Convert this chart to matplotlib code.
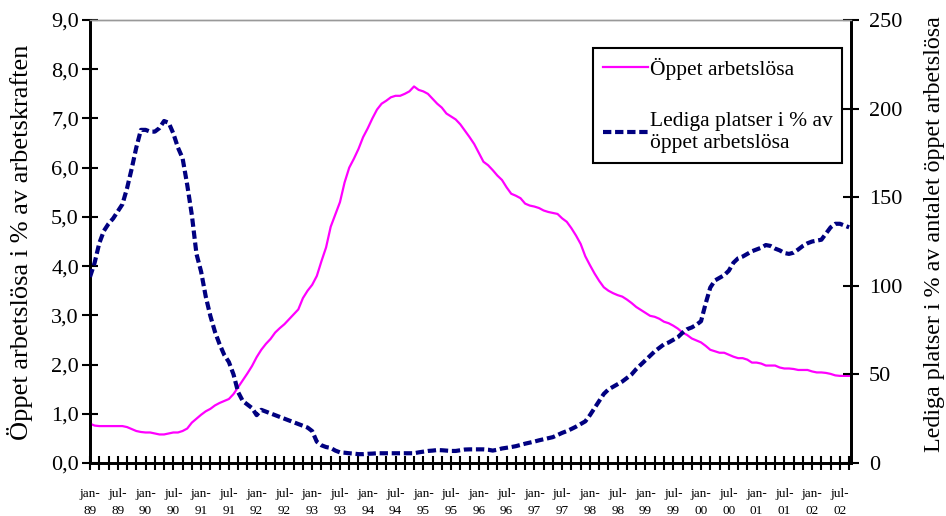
import matplotlib
matplotlib.use("Agg")
import matplotlib.pyplot as plt
from matplotlib.ticker import FixedLocator, FuncFormatter

# Monthly data jan-89 .. sep-02
unemployed = [
    0.80, 0.76, 0.75, 0.75, 0.75, 0.75, 0.75, 0.75, 0.73, 0.69, 0.65, 0.63,
    0.62, 0.62, 0.60, 0.58, 0.58, 0.60, 0.62, 0.62, 0.65, 0.70, 0.82, 0.90,
    0.98, 1.05, 1.10, 1.17, 1.22, 1.26, 1.30, 1.40, 1.54, 1.68, 1.82, 1.97,
    2.15, 2.30, 2.42, 2.52, 2.65, 2.74, 2.82, 2.92, 3.02, 3.12, 3.35, 3.50,
    3.62, 3.80, 4.10, 4.38, 4.80, 5.05, 5.30, 5.70, 6.00, 6.18, 6.38, 6.62,
    6.80, 7.00, 7.18, 7.30, 7.36, 7.43, 7.46, 7.46, 7.50, 7.55, 7.65, 7.58,
    7.55, 7.50, 7.40, 7.30, 7.22, 7.10, 7.04, 6.98, 6.88, 6.75, 6.62, 6.48,
    6.30, 6.12, 6.05, 5.95, 5.84, 5.75, 5.60, 5.47, 5.43, 5.38, 5.27, 5.23,
    5.21, 5.18, 5.13, 5.10, 5.08, 5.06, 4.97, 4.90, 4.77, 4.62, 4.45, 4.20,
    4.02, 3.85, 3.70, 3.57, 3.50, 3.45, 3.41, 3.38, 3.32, 3.25, 3.17, 3.11,
    3.05, 2.99, 2.97, 2.93, 2.87, 2.84, 2.79, 2.73, 2.65, 2.60, 2.53, 2.49,
    2.45, 2.38, 2.30, 2.27, 2.24, 2.24, 2.20, 2.16, 2.13, 2.13, 2.10, 2.04,
    2.04, 2.02, 1.98, 1.98, 1.98, 1.94, 1.92, 1.92, 1.91, 1.89, 1.89, 1.89,
    1.86, 1.84, 1.84, 1.83, 1.81, 1.78, 1.77, 1.77, 1.77,
]

vacancies = [
    105, 113, 124, 131, 135, 138, 142, 146, 155, 166, 178, 188,
    188, 187, 187, 189, 193, 192, 186, 178, 172, 157, 140, 118,
    108, 94, 83, 74, 67, 61, 57, 50, 40, 35, 33, 31,
    27, 30, 29, 28, 27, 26, 25, 24, 23, 22, 21, 20,
    18, 12, 10, 9, 8.5, 7, 6, 5.8, 5.5, 5.3, 5.0, 5.0,
    5.2, 5.3, 5.5, 5.5, 5.5, 5.5, 5.5, 5.5, 5.5, 5.5, 5.5, 6.0,
    6.4, 6.8, 7.0, 7.3, 7.2, 7.0, 6.8, 6.8, 7.2, 7.6, 7.7, 7.7,
    7.7, 7.7, 7.5, 7.0, 7.5, 8.2, 8.6, 9.0, 9.5, 10.2, 10.9, 11.5,
    12.1, 12.8, 13.4, 14.0, 14.6, 15.8, 17.0, 18.0, 19.2, 20.5, 22.0, 23.5,
    27, 31, 35, 39, 41.5, 43, 44.5, 46, 48, 50, 53, 55.5,
    58, 60.5, 63, 65, 67, 68, 69.5, 71, 73.5, 75.5, 76.5, 78,
    80, 90, 99, 103, 104.5, 106, 108.5, 113, 115.5, 116.5, 118, 119.5,
    120.5, 121.5, 123, 122.5, 121, 120, 118.5, 118, 118.7, 120.5, 122.5, 124,
    125, 125.5, 126, 129.5, 133, 135, 135, 134, 133,
]

tick_labels = [
    "jan-\n89", "jul-\n89", "jan-\n90", "jul-\n90", "jan-\n91", "jul-\n91",
    "jan-\n92", "jul-\n92", "jan-\n93", "jul-\n93", "jan-\n94", "jul-\n94",
    "jan-\n95", "jul-\n95", "jan-\n96", "jul-\n96", "jan-\n97", "jul-\n97",
    "jan-\n98", "jul-\n98", "jan-\n99", "jul-\n99", "jan-\n00", "jul-\n00",
    "jan-\n01", "jul-\n01", "jan-\n02", "jul-\n02",
]

label_unemp = "Öppet arbetslösa"
label_vac = "Lediga platser i % av\nöppet arbetslösa"
ylabel_left = "Öppet arbetslösa i % av arbetskraften"
ylabel_right = "Lediga platser i % av antalet öppet arbetslösa"

plt.rcParams["font.family"] = ["Liberation Serif", "DejaVu Serif"]

W, H = 946, 516
fig = plt.figure(figsize=(W / 100, H / 100), dpi=100)
ax = fig.add_axes([90 / W, 1 - 463 / H, (851 - 90) / W, (463 - 20) / H])
ax2 = ax.twinx()

months = list(range(len(unemployed)))
l1, = ax.plot(months, unemployed, color="#FF00FF", lw=1.6, zorder=3)
l2, = ax2.plot(months, vacancies, color="#000080", lw=3.0,
               linestyle=(0, (2.0, 0.9)), zorder=3)

ax.set_xlim(0, 164.4)
ax.set_ylim(0, 9)
ax2.set_ylim(0, 250)

ax.set_yticks([i for i in range(10)])
ax.yaxis.set_major_formatter(FuncFormatter(lambda v, p: f"{v:.1f}".replace(".", ",")))
ax2.set_yticks([0, 50, 100, 150, 200, 250])

ax.xaxis.set_major_locator(FixedLocator([6 * i for i in range(len(tick_labels))]))
ax.set_xticklabels(tick_labels)
ax.xaxis.set_minor_locator(FixedLocator([2 * i for i in range(83)]))

for a in (ax, ax2):
    for s in a.spines.values():
        s.set_linewidth(2)
    a.spines["top"].set_color("#999999")
    a.spines["top"].set_linewidth(1)

ax.tick_params(axis="y", direction="inout", length=12, width=1.5, labelsize=16, pad=2)
ax2.tick_params(axis="y", direction="inout", length=12, width=1.5, labelsize=16, pad=7)
ax.tick_params(axis="x", which="both", direction="inout", length=10, width=1.5,
               labelsize=9.5, pad=13)
for t in ax.get_xticklabels():
    t.set_linespacing(1.6)

fig.text(20 / W, 1 - 440 / H, ylabel_left, rotation=90, ha="center", va="bottom",
         fontsize=19)
fig.text(934 / W, 1 - 452 / H, ylabel_right, rotation=90, ha="center", va="bottom",
         fontsize=17.3)

leg = ax2.legend([l1, l2], [label_unemp, label_vac], loc="upper left",
                 bbox_to_anchor=(593 / W, 1 - 48 / H), bbox_transform=fig.transFigure,
                 fontsize=15.5, frameon=True, fancybox=False, framealpha=1,
                 edgecolor="black", handlelength=2.1, handletextpad=0.1,
                 labelspacing=1.5, borderpad=0.45, borderaxespad=0)
leg.get_frame().set_linewidth(1.5)

fig.savefig("out.png", dpi=100)
